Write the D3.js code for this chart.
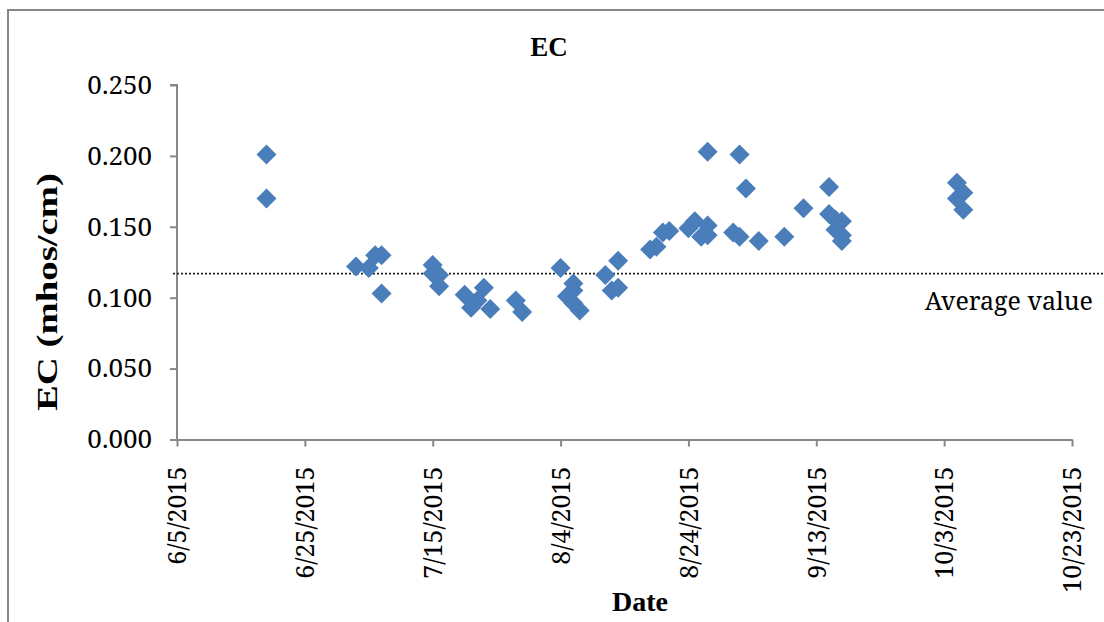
<!DOCTYPE html>
<html>
<head>
<meta charset="utf-8">
<script src="https://cdn.jsdelivr.net/npm/d3@7"></script>
<style>
  html, body { margin: 0; padding: 0; background: #fff; }
  svg { display: block; }
</style>
</head>
<body>
<svg id="chart" width="1104" height="622"></svg>
<script>
// Sampling dates and measured electrical conductivity (mhos/cm)
const dates = [
  "6/19/2015", "6/19/2015",
  "7/3/2015", "7/5/2015", "7/6/2015", "7/7/2015", "7/7/2015",
  "7/15/2015", "7/16/2015", "7/15/2015", "7/16/2015",
  "7/20/2015", "7/23/2015", "7/22/2015", "7/21/2015", "7/24/2015",
  "7/28/2015", "7/29/2015",
  "8/4/2015", "8/6/2015", "8/6/2015", "8/5/2015", "8/6/2015", "8/7/2015",
  "8/11/2015", "8/13/2015", "8/12/2015", "8/13/2015",
  "8/18/2015", "8/19/2015", "8/20/2015", "8/21/2015",
  "8/24/2015", "8/25/2015", "8/26/2015", "8/27/2015", "8/27/2015", "8/27/2015",
  "8/31/2015", "9/1/2015", "9/1/2015", "9/2/2015", "9/4/2015",
  "9/8/2015", "9/11/2015",
  "9/15/2015", "9/15/2015", "9/16/2015", "9/17/2015", "9/16/2015", "9/17/2015", "9/17/2015",
  "10/5/2015", "10/6/2015", "10/5/2015", "10/6/2015"
];
const ecValues = [
  0.201, 0.170,
  0.122, 0.121, 0.130, 0.130, 0.103,
  0.123, 0.116, 0.117, 0.108,
  0.102, 0.107, 0.098, 0.093, 0.092,
  0.098, 0.090,
  0.121, 0.110, 0.105, 0.101, 0.096, 0.091,
  0.116, 0.126, 0.105, 0.107,
  0.134, 0.136, 0.146, 0.147,
  0.149, 0.154, 0.143, 0.151, 0.144, 0.203,
  0.146, 0.143, 0.201, 0.177, 0.140,
  0.143, 0.163,
  0.178, 0.159, 0.155, 0.154, 0.148, 0.144, 0.140,
  0.181, 0.174, 0.170, 0.162
];
const averageValue = 0.117;
const xTickLabels = ["6/5/2015", "6/25/2015", "7/15/2015", "8/4/2015", "8/24/2015", "9/13/2015", "10/3/2015", "10/23/2015"];
const yTickValues = [0, 0.05, 0.1, 0.15, 0.2, 0.25];

const parseDate = d3.timeParse("%m/%d/%Y");
const points = dates.map((d, i) => ({ date: parseDate(d), value: ecValues[i] }));
const xTicks = xTickLabels.map(parseDate);

const svg = d3.select("#chart");
const axisColor = "#868686";
const serifRegular = "'Noto Serif', 'DejaVu Serif', serif";
const serifBold = "'Liberation Serif', serif";

// Chart border
svg.append("rect")
  .attr("x", 8).attr("y", 10)
  .attr("width", 1110).attr("height", 630)
  .attr("fill", "none")
  .attr("stroke", axisColor)
  .attr("stroke-width", 2);

const plot = { left: 177, right: 1072, top: 85, bottom: 439.5 };

const x = d3.scaleTime()
  .domain([xTicks[0], xTicks[xTicks.length - 1]])
  .range([plot.left, plot.right]);
const y = d3.scaleLinear()
  .domain([0, 0.25])
  .range([plot.bottom, plot.top]);

// Y axis
const yAxis = d3.axisLeft(y)
  .tickValues(yTickValues)
  .tickFormat(d3.format(".3f"))
  .tickSize(7)
  .tickPadding(18);
const gy = svg.append("g")
  .attr("transform", `translate(${plot.left},0)`)
  .call(yAxis)
  .attr("font-family", serifRegular);
gy.select(".domain").attr("stroke", axisColor).attr("stroke-width", 2)
  .attr("d", `M-7,${plot.top}H0V${plot.bottom}`);
gy.selectAll(".tick line").attr("stroke", axisColor).attr("stroke-width", 2);
gy.selectAll(".tick text")
  .attr("fill", "#000")
  .attr("font-size", 26);

// X axis
const xAxis = d3.axisBottom(x)
  .tickValues(xTicks)
  .tickFormat((d, i) => xTickLabels[i])
  .tickSize(7)
  .tickSizeOuter(0);
const gx = svg.append("g")
  .attr("transform", `translate(0,${plot.bottom})`)
  .call(xAxis)
  .attr("font-family", serifRegular);
gx.select(".domain").attr("stroke", axisColor).attr("stroke-width", 2);
gx.selectAll(".tick line").attr("stroke", axisColor).attr("stroke-width", 2);
gx.selectAll(".tick text")
  .attr("fill", "#000")
  .attr("font-size", 25)
  .attr("text-anchor", "end")
  .attr("transform", "rotate(-90)")
  .attr("x", -27)
  .attr("y", 0)
  .attr("dy", "0.35em");

// Average reference line
svg.append("line")
  .attr("x1", 173).attr("x2", 1104)
  .attr("y1", y(averageValue)).attr("y2", y(averageValue))
  .attr("stroke", "#222")
  .attr("stroke-width", 1.6)
  .attr("stroke-dasharray", "2,2");

svg.append("text")
  .attr("x", 1093).attr("y", 310)
  .attr("text-anchor", "end")
  .attr("font-family", serifRegular)
  .attr("font-size", 25)
  .text("Average value");

// Data markers (diamonds)
const diamond = d3.symbol().type(d3.symbolSquare).size(200);
svg.append("g")
  .selectAll("path")
  .data(points)
  .join("path")
  .attr("d", diamond)
  .attr("transform", d => `translate(${x(d.date)},${y(d.value)}) rotate(45)`)
  .attr("fill", "#4a7ebb");

// Titles
svg.append("text")
  .attr("x", 549).attr("y", 56)
  .attr("text-anchor", "middle")
  .attr("font-family", serifBold)
  .attr("font-size", 27)
  .attr("font-weight", "bold")
  .text("EC");

svg.append("text")
  .attr("x", 640).attr("y", 611)
  .attr("text-anchor", "middle")
  .attr("font-family", serifBold)
  .attr("font-size", 28)
  .attr("font-weight", "bold")
  .text("Date");

svg.append("text")
  .attr("transform", "translate(57,292) rotate(-90)")
  .attr("text-anchor", "middle")
  .attr("font-family", serifBold)
  .attr("font-size", 30)
  .attr("font-weight", "bold")
  .attr("textLength", 238)
  .attr("lengthAdjust", "spacingAndGlyphs")
  .text("EC (mhos/cm)");
</script>
</body>
</html>
